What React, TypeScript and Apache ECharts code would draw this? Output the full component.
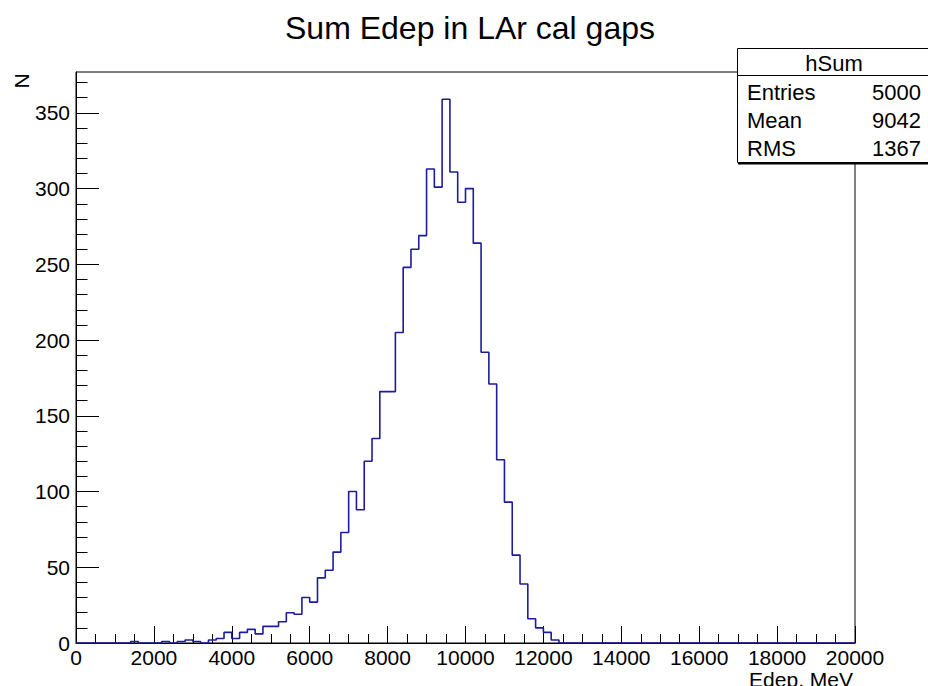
import React, { useEffect, useRef } from "react";
import * as echarts from "echarts";

// ---- data ----
const chartTitle = "Sum Edep in LAr cal gaps";
const xTitle = "Edep, MeV";
const yTitle = "N";
const binLow = 0;
const binHigh = 20000;
const binWidth = 200;
// 100 bins of 200 MeV, 0 .. 20000
const counts = [
  0, 0, 0, 0, 0, 0, 0, 1, 0, 0,
  0, 1, 0, 1, 2, 1, 0, 2, 3, 7,
  3, 7, 9, 6, 11, 11, 14, 20, 19, 30,
  27, 43, 48, 60, 73, 100, 88, 120, 135, 166,
  166, 205, 248, 260, 269, 313, 301, 359, 311, 291,
  300, 264, 192, 171, 121, 93, 58, 39, 16, 10,
  7, 2, 0, 0, 0, 0, 0, 0, 0, 0,
  0, 0, 0, 0, 0, 0, 0, 0, 0, 0,
  0, 0, 0, 0, 0, 0, 0, 0, 0, 0,
  0, 0, 0, 0, 0, 0, 0, 0, 0, 0,
];
const yMax = 377;
const xMajorInterval = 2000;
const yMajorTicks = [0, 50, 100, 150, 200, 250, 300, 350];
const yMinorTicks = [
  10, 20, 30, 40, 60, 70, 80, 90, 110, 120, 130, 140, 160, 170, 180, 190,
  210, 220, 230, 240, 260, 270, 280, 290, 310, 320, 330, 340, 360, 370,
];
const statsName = "hSum";
const statsLabels = ["Entries", "Mean", "RMS"];
const statsValues = ["5000", "9042", "1367"];

const FONT = "'Liberation Sans', Arial, Helvetica, sans-serif";

export default function App() {
  const ref = useRef<HTMLDivElement>(null);

  useEffect(() => {
    if (!ref.current) return;
    const chart = echarts.init(ref.current, undefined, { renderer: "svg" });

    const points: number[][] = counts.map((c, i) => [binLow + i * binWidth, c]);
    points.push([binHigh, 0]);

    const statsRows: any[] = [];
    statsLabels.forEach((lab, i) => {
      statsRows.push({
        type: "text",
        x: 747,
        y: 92 + i * 28,
        style: { text: lab, fontSize: 22, fontFamily: FONT, fill: "#000", align: "left", verticalAlign: "middle" },
        z: 101,
      });
      statsRows.push({
        type: "text",
        x: 921,
        y: 92 + i * 28,
        style: { text: statsValues[i], fontSize: 22, fontFamily: FONT, fill: "#000", align: "right", verticalAlign: "middle" },
        z: 101,
      });
    });

    chart.setOption({
      animation: false,
      backgroundColor: "#fff",
      grid: {
        left: 76,
        right: 73,
        top: 72,
        bottom: 43,
        show: true,
        borderColor: "#000",
        borderWidth: 1,
        backgroundColor: "transparent",
      },
      xAxis: {
        type: "value",
        min: binLow,
        max: binHigh,
        interval: xMajorInterval,
        axisLine: { show: true, onZero: false, lineStyle: { color: "#000", width: 1 } },
        axisTick: { show: true, inside: true, length: 17, lineStyle: { color: "#000", width: 1 } },
        minorTick: { show: true, splitNumber: 4, length: 9, lineStyle: { color: "#000", width: 1 } },
        splitLine: { show: false },
        minorSplitLine: { show: false },
        axisLabel: {
          color: "#000",
          fontSize: 21,
          fontFamily: FONT,
          margin: 4,
          showMinLabel: true,
          showMaxLabel: true,
          formatter: (v: number) => String(v),
        },
      },
      yAxis: [
        {
          type: "value",
          min: 0,
          max: yMax,
          interval: 50,
          axisLine: { show: true, onZero: false, lineStyle: { color: "#000", width: 1 } },
          axisTick: {
            show: true,
            inside: true,
            length: 23,
            customValues: yMajorTicks,
            lineStyle: { color: "#000", width: 1 },
          },
          splitLine: { show: false },
          axisLabel: {
            color: "#000",
            fontSize: 21,
            fontFamily: FONT,
            margin: 6,
            customValues: yMajorTicks,
            showMinLabel: true,
            showMaxLabel: true,
            formatter: (v: number) => String(v),
          },
        },
        {
          type: "value",
          min: 0,
          max: yMax,
          position: "left",
          axisLine: { show: false },
          axisTick: {
            show: true,
            inside: true,
            length: 11.5,
            customValues: yMinorTicks,
            lineStyle: { color: "#000", width: 1 },
          },
          splitLine: { show: false },
          axisLabel: { show: false },
        },
      ],
      series: [
        {
          type: "line",
          step: "end",
          data: points,
          xAxisIndex: 0,
          yAxisIndex: 0,
          symbol: "none",
          lineStyle: { color: "#1c1c9c", width: 1.6 },
          z: 5,
        },
      ],
      graphic: [
        {
          type: "text",
          x: 470,
          y: 28,
          style: { text: chartTitle, fontSize: 32, fontFamily: FONT, fill: "#000", align: "center", verticalAlign: "middle" },
        },
        {
          type: "text",
          x: 21,
          y: 81,
          rotation: Math.PI / 2,
          style: { text: yTitle, fontSize: 21, fontFamily: FONT, fill: "#000", align: "center", verticalAlign: "middle" },
        },
        {
          type: "text",
          x: 853,
          y: 669,
          style: { text: xTitle, fontSize: 21, fontFamily: FONT, fill: "#000", align: "right", verticalAlign: "top" },
        },
        {
          type: "rect",
          shape: { x: 737.5, y: 48.5, width: 200, height: 114 },
          style: { fill: "#fff", stroke: "#000", lineWidth: 1 },
          z: 100,
        },
        {
          type: "line",
          shape: { x1: 738, y1: 163.5, x2: 940, y2: 163.5 },
          style: { stroke: "#000", lineWidth: 2 },
          z: 100,
        },
        {
          type: "line",
          shape: { x1: 737.5, y1: 75.5, x2: 940, y2: 75.5 },
          style: { stroke: "#000", lineWidth: 1 },
          z: 100,
        },
        {
          type: "text",
          x: 834,
          y: 63,
          style: { text: statsName, fontSize: 22, fontFamily: FONT, fill: "#000", align: "center", verticalAlign: "middle" },
          z: 101,
        },
        ...statsRows,
      ],
    });

    return () => chart.dispose();
  }, []);

  return (
    <div
      ref={ref}
      style={{ position: "fixed", left: 0, top: 0, width: 928, height: 686, background: "#fff" }}
    />
  );
}
